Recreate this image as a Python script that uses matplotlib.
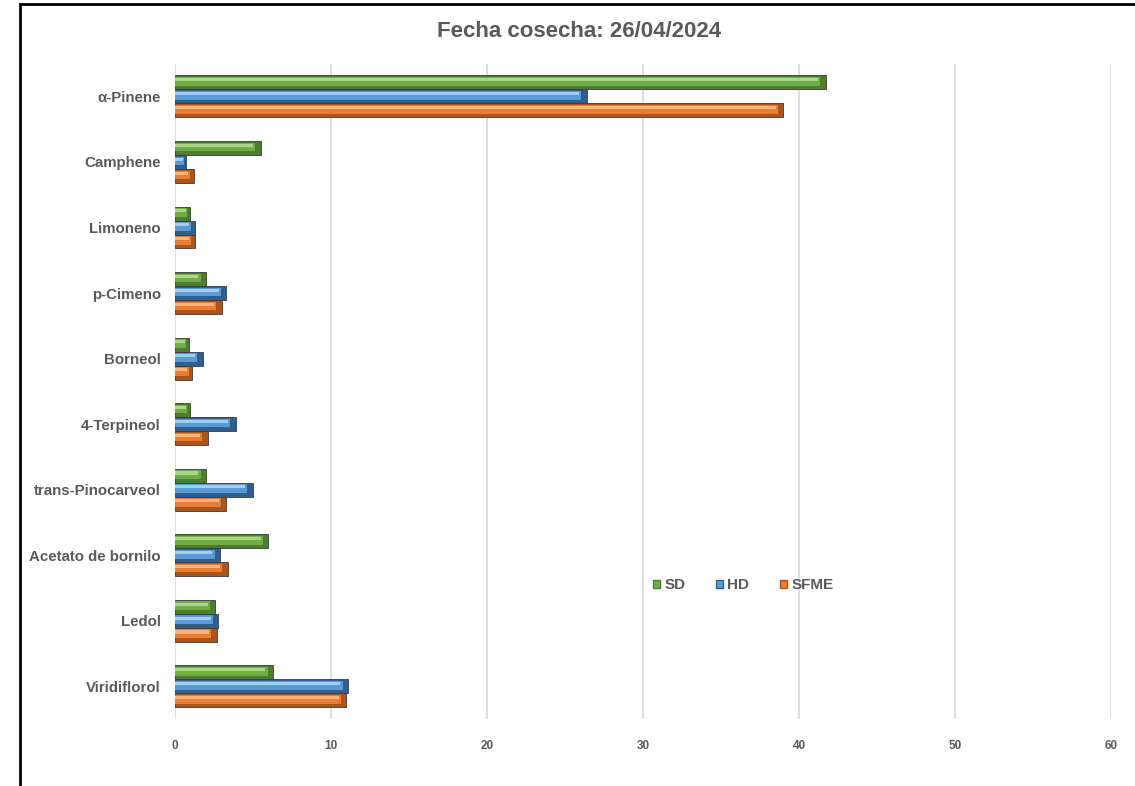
import matplotlib.pyplot as plt
import numpy as np
from matplotlib.patches import Rectangle

plt.rcParams['font.family'] = ['Liberation Sans', 'DejaVu Sans']

# compuestos y porcentajes por metodo de extraccion
compuestos = ["α-Pinene", "Camphene", "Limoneno", "p-Cimeno", "Borneol",
              "4-Terpineol", "trans-Pinocarveol", "Acetato de bornilo",
              "Ledol", "Viridiflorol"]
sd = [41.7, 5.5, 1.0, 2.0, 0.9, 1.0, 2.0, 6.0, 2.6, 6.3]
hd = [26.4, 0.7, 1.3, 3.3, 1.8, 3.9, 5.0, 2.9, 2.8, 11.1]
sfme = [39.0, 1.2, 1.3, 3.0, 1.1, 2.1, 3.3, 3.4, 2.7, 11.0]
metodos = ["SD", "HD", "SFME"]
titulo = "Fecha cosecha: 26/04/2024"

# (cara, brillo, sombra) para el efecto biselado
colores = [("#70AD47", "#A9D88A", "#4E7D30"),
           ("#5B9BD5", "#A3CDF2", "#2F5F8E"),
           ("#ED7D31", "#F8B57E", "#A8561E")]

fig = plt.figure(figsize=(11.35, 7.86), dpi=100)
ax = fig.add_axes([0.154, 0.085, 0.825, 0.834])

y = np.arange(len(compuestos))
h = 0.213
gris = "#595959"


def barra_bisel(ax, pos, valores, col, label):
    cara, brillo, sombra = col
    # cuerpo oscuro (borde inferior y extremos)
    ax.barh(pos, valores, height=h, color=sombra, edgecolor="#3a3a3a",
            linewidth=0.6, label=label, zorder=3)
    v = np.array(valores)
    ins = np.minimum(0.35, v * 0.2)
    # cara principal
    ax.barh(pos - h * 0.08, v - ins, height=h * 0.62, color=cara,
            linewidth=0, zorder=4)
    # franja de brillo superior
    ax.barh(pos - h * 0.2, v - ins * 1.4, height=h * 0.22, color=brillo,
            linewidth=0, zorder=5)


for i, (serie, nombre) in enumerate(zip([sd, hd, sfme], metodos)):
    barra_bisel(ax, y + (i - 1) * h, serie, colores[i], nombre)

ax.set_xlim(0, 60)
ax.set_ylim(len(compuestos) - 0.5, -0.5)
ax.set_xticks(np.arange(0, 61, 10))
ax.set_yticks(y)
ax.set_yticklabels(compuestos, fontsize=10.8, fontweight="bold", color=gris)
ax.tick_params(axis="x", labelsize=8.5, colors=gris, length=0, pad=15)
ax.tick_params(axis="y", length=0, pad=10)
for lab in ax.get_xticklabels():
    lab.set_fontweight("bold")
ax.xaxis.grid(True, color="#D9D9D9", linewidth=1.2, zorder=0)
ax.set_axisbelow(True)
for s in ax.spines.values():
    s.set_visible(False)

handles = [Rectangle((0, 0), 1, 1, facecolor=c[0], edgecolor=c[2], linewidth=1)
           for c in colores]
leg = ax.legend(handles, metodos, loc="center", bbox_to_anchor=(0.607, 0.204),
                ncol=3, frameon=False, handlelength=0.45, handleheight=0.45,
                handletextpad=0.3, columnspacing=2.0,
                prop={"weight": "bold", "size": 11})
for t in leg.get_texts():
    t.set_color(gris)

fig.text(0.51, 0.96, titulo, ha="center", va="center", fontsize=16,
         fontweight="bold", color=gris)

# marco del grafico
fig.patches.append(Rectangle((0.018, -0.1), 1.1, 1.095, transform=fig.transFigure,
                             fill=False, edgecolor="black", linewidth=2))

fig.savefig("out.png", dpi=100, facecolor="white")
